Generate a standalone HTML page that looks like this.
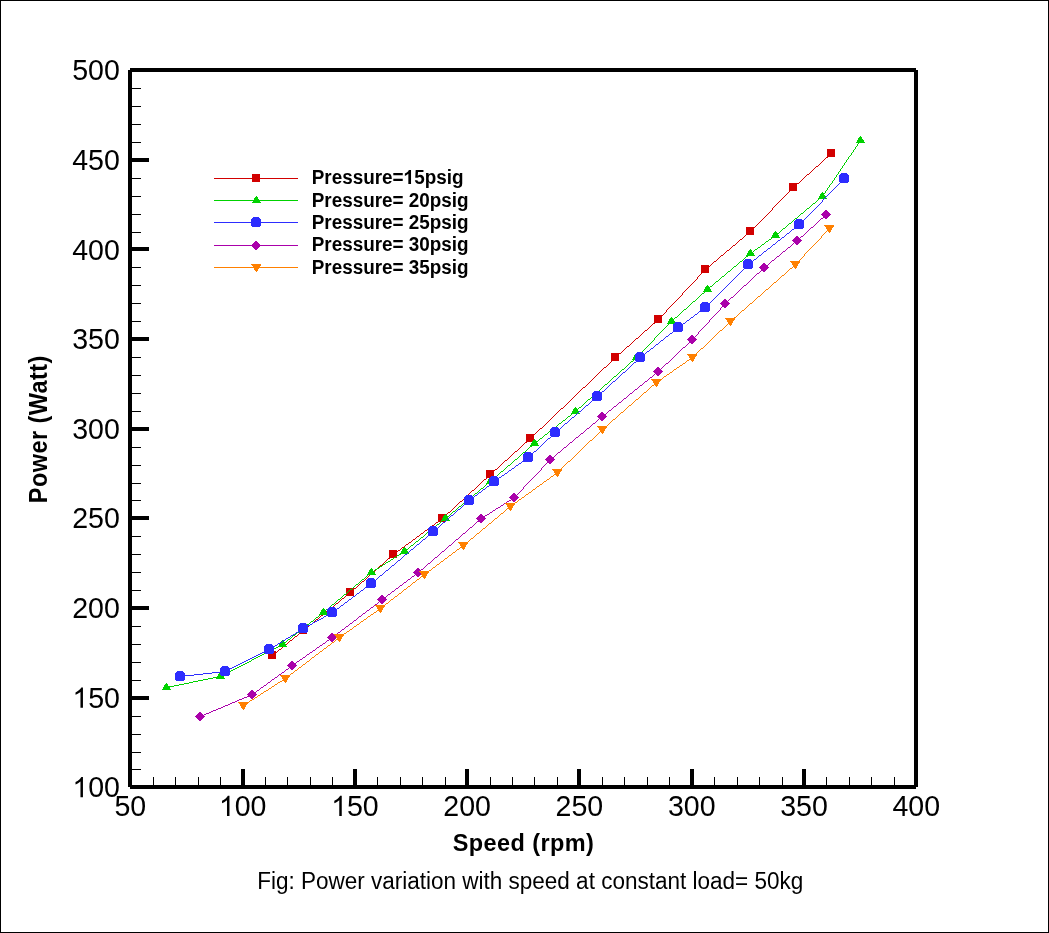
<!DOCTYPE html>
<html><head><meta charset="utf-8"><title>Power variation with speed</title>
<style>
html,body{margin:0;padding:0;background:#fff;}
body{width:1049px;height:933px;overflow:hidden;font-family:"Liberation Sans",sans-serif;}
svg{display:block;will-change:transform;}
</style></head><body>
<svg width="1049" height="933" viewBox="0 0 1049 933">
<rect x="0" y="0" width="1049" height="933" fill="#fff"/>
<g shape-rendering="crispEdges" fill="#000">
<rect x="0" y="0" width="1049" height="1"/><rect x="0" y="932" width="1049" height="1"/>
<rect x="0" y="0" width="1" height="933"/><rect x="1048" y="0" width="1" height="933"/>
<rect x="130" y="68" width="786" height="4"/>
<rect x="130" y="785" width="786" height="4"/>
<rect x="128" y="70" width="4" height="717"/>
<rect x="914" y="70" width="4" height="717"/>
<rect x="132" y="158" width="17" height="4"/>
<rect x="132" y="247" width="17" height="4"/>
<rect x="132" y="337" width="17" height="4"/>
<rect x="132" y="427" width="17" height="4"/>
<rect x="132" y="516" width="17" height="4"/>
<rect x="132" y="606" width="17" height="4"/>
<rect x="132" y="696" width="17" height="4"/>
<rect x="132" y="88" width="9" height="1"/>
<rect x="132" y="106" width="9" height="1"/>
<rect x="132" y="124" width="9" height="1"/>
<rect x="132" y="142" width="9" height="1"/>
<rect x="132" y="178" width="9" height="1"/>
<rect x="132" y="196" width="9" height="1"/>
<rect x="132" y="214" width="9" height="1"/>
<rect x="132" y="232" width="9" height="1"/>
<rect x="132" y="267" width="9" height="1"/>
<rect x="132" y="285" width="9" height="1"/>
<rect x="132" y="303" width="9" height="1"/>
<rect x="132" y="321" width="9" height="1"/>
<rect x="132" y="357" width="9" height="1"/>
<rect x="132" y="375" width="9" height="1"/>
<rect x="132" y="393" width="9" height="1"/>
<rect x="132" y="411" width="9" height="1"/>
<rect x="132" y="447" width="9" height="1"/>
<rect x="132" y="465" width="9" height="1"/>
<rect x="132" y="483" width="9" height="1"/>
<rect x="132" y="500" width="9" height="1"/>
<rect x="132" y="536" width="9" height="1"/>
<rect x="132" y="554" width="9" height="1"/>
<rect x="132" y="572" width="9" height="1"/>
<rect x="132" y="590" width="9" height="1"/>
<rect x="132" y="626" width="9" height="1"/>
<rect x="132" y="644" width="9" height="1"/>
<rect x="132" y="662" width="9" height="1"/>
<rect x="132" y="680" width="9" height="1"/>
<rect x="132" y="716" width="9" height="1"/>
<rect x="132" y="734" width="9" height="1"/>
<rect x="132" y="752" width="9" height="1"/>
<rect x="132" y="769" width="9" height="1"/>
<rect x="241" y="769" width="4" height="16"/>
<rect x="353" y="769" width="4" height="16"/>
<rect x="465" y="769" width="4" height="16"/>
<rect x="577" y="769" width="4" height="16"/>
<rect x="690" y="769" width="4" height="16"/>
<rect x="802" y="769" width="4" height="16"/>
<rect x="153" y="777" width="1" height="8"/>
<rect x="175" y="777" width="1" height="8"/>
<rect x="198" y="777" width="1" height="8"/>
<rect x="220" y="777" width="1" height="8"/>
<rect x="265" y="777" width="1" height="8"/>
<rect x="287" y="777" width="1" height="8"/>
<rect x="310" y="777" width="1" height="8"/>
<rect x="332" y="777" width="1" height="8"/>
<rect x="377" y="777" width="1" height="8"/>
<rect x="400" y="777" width="1" height="8"/>
<rect x="422" y="777" width="1" height="8"/>
<rect x="445" y="777" width="1" height="8"/>
<rect x="490" y="777" width="1" height="8"/>
<rect x="512" y="777" width="1" height="8"/>
<rect x="534" y="777" width="1" height="8"/>
<rect x="557" y="777" width="1" height="8"/>
<rect x="602" y="777" width="1" height="8"/>
<rect x="624" y="777" width="1" height="8"/>
<rect x="647" y="777" width="1" height="8"/>
<rect x="669" y="777" width="1" height="8"/>
<rect x="714" y="777" width="1" height="8"/>
<rect x="737" y="777" width="1" height="8"/>
<rect x="759" y="777" width="1" height="8"/>
<rect x="782" y="777" width="1" height="8"/>
<rect x="826" y="777" width="1" height="8"/>
<rect x="849" y="777" width="1" height="8"/>
<rect x="871" y="777" width="1" height="8"/>
<rect x="894" y="777" width="1" height="8"/>
</g>
<path transform="translate(72.44,797.3) scale(0.01377,-0.01377)" d="M763 0L583 0L583 1147Q518 1085 412.5 1023Q307 961 223 930L223 1104Q374 1175 487 1276Q600 1377 647 1472L763 1472Z" fill="#000"/>
<text transform="translate(88.13,797.3) scale(0.985,1.012)" font-family="'Liberation Sans', sans-serif" font-size="29" fill="#000">00</text>
<path transform="translate(72.44,707.67) scale(0.01377,-0.01377)" d="M763 0L583 0L583 1147Q518 1085 412.5 1023Q307 961 223 930L223 1104Q374 1175 487 1276Q600 1377 647 1472L763 1472Z" fill="#000"/>
<text transform="translate(88.13,707.67) scale(0.985,1.012)" font-family="'Liberation Sans', sans-serif" font-size="29" fill="#000">50</text>
<text transform="translate(72.24,618.05) scale(0.985,1.012)" font-family="'Liberation Sans', sans-serif" font-size="29" fill="#000">200</text>
<text transform="translate(72.24,528.42) scale(0.985,1.012)" font-family="'Liberation Sans', sans-serif" font-size="29" fill="#000">250</text>
<text transform="translate(72.24,438.8) scale(0.985,1.012)" font-family="'Liberation Sans', sans-serif" font-size="29" fill="#000">300</text>
<text transform="translate(72.24,349.18) scale(0.985,1.012)" font-family="'Liberation Sans', sans-serif" font-size="29" fill="#000">350</text>
<text transform="translate(72.24,259.55) scale(0.985,1.012)" font-family="'Liberation Sans', sans-serif" font-size="29" fill="#000">400</text>
<text transform="translate(72.24,169.93) scale(0.985,1.012)" font-family="'Liberation Sans', sans-serif" font-size="29" fill="#000">450</text>
<text transform="translate(72.24,80.3) scale(0.985,1.012)" font-family="'Liberation Sans', sans-serif" font-size="29" fill="#000">500</text>
<text transform="translate(114.41,816) scale(0.985,1.012)" font-family="'Liberation Sans', sans-serif" font-size="29" fill="#000">50</text>
<path transform="translate(218.96,816) scale(0.01377,-0.01377)" d="M763 0L583 0L583 1147Q518 1085 412.5 1023Q307 961 223 930L223 1104Q374 1175 487 1276Q600 1377 647 1472L763 1472Z" fill="#000"/>
<text transform="translate(234.64,816) scale(0.985,1.012)" font-family="'Liberation Sans', sans-serif" font-size="29" fill="#000">00</text>
<path transform="translate(331.24,816) scale(0.01377,-0.01377)" d="M763 0L583 0L583 1147Q518 1085 412.5 1023Q307 961 223 930L223 1104Q374 1175 487 1276Q600 1377 647 1472L763 1472Z" fill="#000"/>
<text transform="translate(346.93,816) scale(0.985,1.012)" font-family="'Liberation Sans', sans-serif" font-size="29" fill="#000">50</text>
<text transform="translate(443.33,816) scale(0.985,1.012)" font-family="'Liberation Sans', sans-serif" font-size="29" fill="#000">200</text>
<text transform="translate(555.61,816) scale(0.985,1.012)" font-family="'Liberation Sans', sans-serif" font-size="29" fill="#000">250</text>
<text transform="translate(667.9,816) scale(0.985,1.012)" font-family="'Liberation Sans', sans-serif" font-size="29" fill="#000">300</text>
<text transform="translate(780.18,816) scale(0.985,1.012)" font-family="'Liberation Sans', sans-serif" font-size="29" fill="#000">350</text>
<text transform="translate(892.47,816) scale(0.985,1.012)" font-family="'Liberation Sans', sans-serif" font-size="29" fill="#000">400</text>
<text transform="translate(523.5,850.7) scale(1,1.045)" font-family="'Liberation Sans', sans-serif" font-size="23.5" font-weight="bold" text-anchor="middle" letter-spacing="0.42" fill="#000">Speed (rpm)</text>
<text transform="translate(47,429.2) rotate(-90) scale(1,1.058)" font-family="'Liberation Sans', sans-serif" font-size="23.5" font-weight="bold" text-anchor="middle" letter-spacing="0.44" fill="#000">Power (Watt)</text>
<text transform="translate(257.2,889) scale(0.958,1)" font-family="'Liberation Sans', sans-serif" font-size="23.5" fill="#000">Fig: Power variation with speed at constant load= 50kg</text>
<g shape-rendering="crispEdges">
<path fill="none" stroke="#d20000" stroke-width="1" d="M831 153.5h1M830 154.5h1M829 155.5h1M828 156.5h1M826 157.5h2M825 158.5h1M824 159.5h1M823 160.5h1M822 161.5h1M821 162.5h1M820 163.5h1M819 164.5h1M818 165.5h1M816 166.5h2M815 167.5h1M814 168.5h1M813 169.5h1M812 170.5h1M811 171.5h1M810 172.5h1M809 173.5h1M807 174.5h2M806 175.5h1M805 176.5h1M804 177.5h1M803 178.5h1M802 179.5h1M801 180.5h1M800 181.5h1M799 182.5h1M797 183.5h2M796 184.5h1M795 185.5h1M794 186.5h1M793 187.5h1M792 188.5h1M791 189.5h1M790 190.5h1M789 191.5h1M788 192.5h1M787 193.5h1M786 194.5h1M785 195.5h1M784 196.5h1M783 197.5h1M782 198.5h1M781 199.5h1M780 200.5h1M779 201.5h1M778 202.5h1M777 203.5h1M776 204.5h1M775 205.5h1M774 206.5h1M773 207.5h1M772 208.5h1M772 209.5h1M771 210.5h1M770 211.5h1M769 212.5h1M768 213.5h1M767 214.5h1M766 215.5h1M765 216.5h1M764 217.5h1M763 218.5h1M762 219.5h1M761 220.5h1M760 221.5h1M759 222.5h1M758 223.5h1M757 224.5h1M756 225.5h1M755 226.5h1M754 227.5h1M753 228.5h1M752 229.5h1M751 230.5h1M750 231.5h1M749 232.5h1M748 233.5h1M746 234.5h2M745 235.5h1M744 236.5h1M743 237.5h1M742 238.5h1M740 239.5h2M739 240.5h1M738 241.5h1M737 242.5h1M736 243.5h1M735 244.5h1M733 245.5h2M732 246.5h1M731 247.5h1M730 248.5h1M729 249.5h1M727 250.5h2M726 251.5h1M725 252.5h1M724 253.5h1M723 254.5h1M721 255.5h2M720 256.5h1M719 257.5h1M718 258.5h1M717 259.5h1M716 260.5h1M714 261.5h2M713 262.5h1M712 263.5h1M711 264.5h1M710 265.5h1M708 266.5h2M707 267.5h1M706 268.5h1M705 269.5h1M704 270.5h1M703 271.5h1M702 272.5h1M701 273.5h1M700 274.5h1M699 275.5h1M698 276.5h1M697 277.5h1M697 278.5h1M696 279.5h1M695 280.5h1M694 281.5h1M693 282.5h1M692 283.5h1M691 284.5h1M690 285.5h1M689 286.5h1M688 287.5h1M687 288.5h1M686 289.5h1M685 290.5h1M684 291.5h1M683 292.5h1M682 293.5h1M682 294.5h1M681 295.5h1M680 296.5h1M679 297.5h1M678 298.5h1M677 299.5h1M676 300.5h1M675 301.5h1M674 302.5h1M673 303.5h1M672 304.5h1M671 305.5h1M670 306.5h1M669 307.5h1M668 308.5h1M667 309.5h1M666 310.5h1M666 311.5h1M665 312.5h1M664 313.5h1M663 314.5h1M662 315.5h1M661 316.5h1M660 317.5h1M659 318.5h1M658 319.5h1M657 320.5h1M656 321.5h1M655 322.5h1M653 323.5h2M652 324.5h1M651 325.5h1M650 326.5h1M649 327.5h1M648 328.5h1M647 329.5h1M645 330.5h2M644 331.5h1M643 332.5h1M642 333.5h1M641 334.5h1M640 335.5h1M639 336.5h1M638 337.5h1M636 338.5h2M635 339.5h1M634 340.5h1M633 341.5h1M632 342.5h1M631 343.5h1M630 344.5h1M629 345.5h1M627 346.5h2M626 347.5h1M625 348.5h1M624 349.5h1M623 350.5h1M622 351.5h1M621 352.5h1M619 353.5h2M618 354.5h1M617 355.5h1M616 356.5h1M615 357.5h1M614 358.5h1M613 359.5h1M612 360.5h1M611 361.5h1M610 362.5h1M609 363.5h1M608 364.5h1M607 365.5h1M606 366.5h1M604 367.5h2M603 368.5h1M602 369.5h1M601 370.5h1M600 371.5h1M599 372.5h1M598 373.5h1M597 374.5h1M596 375.5h1M595 376.5h1M594 377.5h1M593 378.5h1M592 379.5h1M591 380.5h1M590 381.5h1M589 382.5h1M588 383.5h1M587 384.5h1M586 385.5h1M585 386.5h1M583 387.5h2M582 388.5h1M581 389.5h1M580 390.5h1M579 391.5h1M578 392.5h1M577 393.5h1M576 394.5h1M575 395.5h1M574 396.5h1M573 397.5h1M572 398.5h1M571 399.5h1M570 400.5h1M569 401.5h1M568 402.5h1M567 403.5h1M566 404.5h1M565 405.5h1M564 406.5h1M563 407.5h1M561 408.5h2M560 409.5h1M559 410.5h1M558 411.5h1M557 412.5h1M556 413.5h1M555 414.5h1M554 415.5h1M553 416.5h1M552 417.5h1M551 418.5h1M550 419.5h1M549 420.5h1M548 421.5h1M547 422.5h1M546 423.5h1M545 424.5h1M544 425.5h1M543 426.5h1M542 427.5h1M540 428.5h2M539 429.5h1M538 430.5h1M537 431.5h1M536 432.5h1M535 433.5h1M534 434.5h1M533 435.5h1M532 436.5h1M531 437.5h1M530 438.5h1M529 439.5h1M528 440.5h1M527 441.5h1M525 442.5h2M524 443.5h1M523 444.5h1M522 445.5h1M521 446.5h1M520 447.5h1M519 448.5h1M518 449.5h1M517 450.5h1M515 451.5h2M514 452.5h1M513 453.5h1M512 454.5h1M511 455.5h1M510 456.5h1M509 457.5h1M508 458.5h1M507 459.5h1M505 460.5h2M504 461.5h1M503 462.5h1M502 463.5h1M501 464.5h1M500 465.5h1M499 466.5h1M498 467.5h1M497 468.5h1M495 469.5h2M494 470.5h1M493 471.5h1M492 472.5h1M491 473.5h1M490 474.5h1M489 475.5h1M488 476.5h1M487 477.5h1M486 478.5h1M484 479.5h2M483 480.5h1M482 481.5h1M481 482.5h1M480 483.5h1M479 484.5h1M478 485.5h1M477 486.5h1M476 487.5h1M475 488.5h1M474 489.5h1M472 490.5h2M471 491.5h1M470 492.5h1M469 493.5h1M468 494.5h1M467 495.5h1M466 496.5h1M465 497.5h1M464 498.5h1M463 499.5h1M462 500.5h1M460 501.5h2M459 502.5h1M458 503.5h1M457 504.5h1M456 505.5h1M455 506.5h1M454 507.5h1M453 508.5h1M452 509.5h1M451 510.5h1M450 511.5h1M448 512.5h2M447 513.5h1M446 514.5h1M445 515.5h1M444 516.5h1M443 517.5h1M442 518.5h1M440 519.5h2M439 520.5h1M438 521.5h1M436 522.5h2M435 523.5h1M434 524.5h1M432 525.5h2M431 526.5h1M430 527.5h1M428 528.5h2M427 529.5h1M425 530.5h2M424 531.5h1M423 532.5h1M421 533.5h2M420 534.5h1M419 535.5h1M417 536.5h2M416 537.5h1M415 538.5h1M413 539.5h2M412 540.5h1M411 541.5h1M409 542.5h2M408 543.5h1M406 544.5h2M405 545.5h1M404 546.5h1M402 547.5h2M401 548.5h1M400 549.5h1M398 550.5h2M397 551.5h1M396 552.5h1M394 553.5h2M393 554.5h1M392 555.5h1M391 556.5h1M390 557.5h1M388 558.5h2M387 559.5h1M386 560.5h1M385 561.5h1M384 562.5h1M383 563.5h1M382 564.5h1M380 565.5h2M379 566.5h1M378 567.5h1M377 568.5h1M376 569.5h1M375 570.5h1M374 571.5h1M373 572.5h1M371 573.5h2M370 574.5h1M369 575.5h1M368 576.5h1M367 577.5h1M366 578.5h1M365 579.5h1M364 580.5h1M362 581.5h2M361 582.5h1M360 583.5h1M359 584.5h1M358 585.5h1M357 586.5h1M356 587.5h1M354 588.5h2M353 589.5h1M352 590.5h1M351 591.5h1M350 592.5h1M349 593.5h1M347 594.5h2M346 595.5h1M345 596.5h1M344 597.5h1M342 598.5h2M341 599.5h1M340 600.5h1M339 601.5h1M338 602.5h1M336 603.5h2M335 604.5h1M334 605.5h1M333 606.5h1M331 607.5h2M330 608.5h1M329 609.5h1M328 610.5h1M326 611.5h2M325 612.5h1M324 613.5h1M323 614.5h1M321 615.5h2M320 616.5h1M319 617.5h1M318 618.5h1M316 619.5h2M315 620.5h1M314 621.5h1M313 622.5h1M312 623.5h1M310 624.5h2M309 625.5h1M308 626.5h1M307 627.5h1M305 628.5h2M304 629.5h1M303 630.5h1M302 631.5h1M300 632.5h2M299 633.5h1M298 634.5h1M297 635.5h1M295 636.5h2M294 637.5h1M293 638.5h1M292 639.5h1M290 640.5h2M289 641.5h1M288 642.5h1M287 643.5h1M286 644.5h1M284 645.5h2M283 646.5h1M282 647.5h1M281 648.5h1M279 649.5h2M278 650.5h1M277 651.5h1M276 652.5h1M274 653.5h2M273 654.5h1M272 655.5h1"/>
<path fill="none" stroke="#d20000" stroke-width="1" d="M268 651.5h8M268 652.5h8M268 653.5h8M268 654.5h8M268 655.5h8M268 656.5h8M268 657.5h8M268 658.5h8M299 626.5h8M299 627.5h8M299 628.5h8M299 629.5h8M299 630.5h8M299 631.5h8M299 632.5h8M299 633.5h8M346 588.5h8M346 589.5h8M346 590.5h8M346 591.5h8M346 592.5h8M346 593.5h8M346 594.5h8M346 595.5h8M389 550.5h8M389 551.5h8M389 552.5h8M389 553.5h8M389 554.5h8M389 555.5h8M389 556.5h8M389 557.5h8M438 514.5h8M438 515.5h8M438 516.5h8M438 517.5h8M438 518.5h8M438 519.5h8M438 520.5h8M438 521.5h8M486 470.5h8M486 471.5h8M486 472.5h8M486 473.5h8M486 474.5h8M486 475.5h8M486 476.5h8M486 477.5h8M526 434.5h8M526 435.5h8M526 436.5h8M526 437.5h8M526 438.5h8M526 439.5h8M526 440.5h8M526 441.5h8M611 353.5h8M611 354.5h8M611 355.5h8M611 356.5h8M611 357.5h8M611 358.5h8M611 359.5h8M611 360.5h8M654 315.5h8M654 316.5h8M654 317.5h8M654 318.5h8M654 319.5h8M654 320.5h8M654 321.5h8M654 322.5h8M701 265.5h8M701 266.5h8M701 267.5h8M701 268.5h8M701 269.5h8M701 270.5h8M701 271.5h8M701 272.5h8M746 227.5h8M746 228.5h8M746 229.5h8M746 230.5h8M746 231.5h8M746 232.5h8M746 233.5h8M746 234.5h8M789 183.5h8M789 184.5h8M789 185.5h8M789 186.5h8M789 187.5h8M789 188.5h8M789 189.5h8M789 190.5h8M827 149.5h8M827 150.5h8M827 151.5h8M827 152.5h8M827 153.5h8M827 154.5h8M827 155.5h8M827 156.5h8"/>
<path fill="none" stroke="#00d200" stroke-width="1" d="M860 140.5h1M859 141.5h1M859 142.5h1M858 143.5h1M857 144.5h1M857 145.5h1M856 146.5h1M855 147.5h1M855 148.5h1M854 149.5h1M853 150.5h1M853 151.5h1M852 152.5h1M851 153.5h1M851 154.5h1M850 155.5h1M849 156.5h1M848 157.5h1M848 158.5h1M847 159.5h1M846 160.5h1M846 161.5h1M845 162.5h1M844 163.5h1M844 164.5h1M843 165.5h1M842 166.5h1M842 167.5h1M841 168.5h1M840 169.5h1M840 170.5h1M839 171.5h1M838 172.5h1M838 173.5h1M837 174.5h1M836 175.5h1M836 176.5h1M835 177.5h1M834 178.5h1M834 179.5h1M833 180.5h1M832 181.5h1M832 182.5h1M831 183.5h1M830 184.5h1M829 185.5h1M829 186.5h1M828 187.5h1M827 188.5h1M827 189.5h1M826 190.5h1M825 191.5h1M825 192.5h1M824 193.5h1M823 194.5h1M823 195.5h1M822 196.5h1M821 197.5h1M819 198.5h2M818 199.5h1M817 200.5h1M816 201.5h1M815 202.5h1M813 203.5h2M812 204.5h1M811 205.5h1M810 206.5h1M809 207.5h1M807 208.5h2M806 209.5h1M805 210.5h1M804 211.5h1M803 212.5h1M801 213.5h2M800 214.5h1M799 215.5h1M798 216.5h1M797 217.5h1M795 218.5h2M794 219.5h1M793 220.5h1M792 221.5h1M791 222.5h1M789 223.5h2M788 224.5h1M787 225.5h1M786 226.5h1M785 227.5h1M783 228.5h2M782 229.5h1M781 230.5h1M780 231.5h1M779 232.5h1M777 233.5h2M776 234.5h1M775 235.5h1M773 236.5h2M772 237.5h1M771 238.5h1M769 239.5h2M768 240.5h1M766 241.5h2M765 242.5h1M764 243.5h1M762 244.5h2M761 245.5h1M760 246.5h1M758 247.5h2M757 248.5h1M755 249.5h2M754 250.5h1M753 251.5h1M751 252.5h2M750 253.5h1M749 254.5h1M748 255.5h1M746 256.5h2M745 257.5h1M744 258.5h1M743 259.5h1M742 260.5h1M740 261.5h2M739 262.5h1M738 263.5h1M737 264.5h1M736 265.5h1M734 266.5h2M733 267.5h1M732 268.5h1M731 269.5h1M730 270.5h1M728 271.5h2M727 272.5h1M726 273.5h1M725 274.5h1M724 275.5h1M722 276.5h2M721 277.5h1M720 278.5h1M719 279.5h1M718 280.5h1M716 281.5h2M715 282.5h1M714 283.5h1M713 284.5h1M712 285.5h1M710 286.5h2M709 287.5h1M708 288.5h1M707 289.5h1M706 290.5h1M705 291.5h1M704 292.5h1M702 293.5h2M701 294.5h1M700 295.5h1M699 296.5h1M698 297.5h1M697 298.5h1M696 299.5h1M695 300.5h1M693 301.5h2M692 302.5h1M691 303.5h1M690 304.5h1M689 305.5h1M688 306.5h1M687 307.5h1M686 308.5h1M684 309.5h2M683 310.5h1M682 311.5h1M681 312.5h1M680 313.5h1M679 314.5h1M678 315.5h1M677 316.5h1M675 317.5h2M674 318.5h1M673 319.5h1M672 320.5h1M671 321.5h1M670 322.5h1M669 323.5h1M668 324.5h1M667 325.5h1M666 326.5h1M665 327.5h1M664 328.5h1M663 329.5h1M662 330.5h1M661 331.5h1M660 332.5h1M659 333.5h1M658 334.5h1M657 335.5h1M656 336.5h1M655 337.5h1M654 338.5h1M654 339.5h1M653 340.5h1M652 341.5h1M651 342.5h1M650 343.5h1M649 344.5h1M648 345.5h1M647 346.5h1M646 347.5h1M645 348.5h1M644 349.5h1M643 350.5h1M642 351.5h1M641 352.5h1M640 353.5h1M639 354.5h1M638 355.5h1M637 356.5h1M636 357.5h1M635 358.5h1M634 359.5h1M633 360.5h1M631 361.5h2M630 362.5h1M629 363.5h1M628 364.5h1M627 365.5h1M626 366.5h1M625 367.5h1M624 368.5h1M622 369.5h2M621 370.5h1M620 371.5h1M619 372.5h1M618 373.5h1M617 374.5h1M616 375.5h1M614 376.5h2M613 377.5h1M612 378.5h1M611 379.5h1M610 380.5h1M609 381.5h1M608 382.5h1M607 383.5h1M605 384.5h2M604 385.5h1M603 386.5h1M602 387.5h1M601 388.5h1M600 389.5h1M599 390.5h1M598 391.5h1M596 392.5h2M595 393.5h1M594 394.5h1M593 395.5h1M592 396.5h1M591 397.5h1M590 398.5h1M588 399.5h2M587 400.5h1M586 401.5h1M585 402.5h1M584 403.5h1M583 404.5h1M582 405.5h1M581 406.5h1M579 407.5h2M578 408.5h1M577 409.5h1M576 410.5h1M575 411.5h1M574 412.5h1M572 413.5h2M571 414.5h1M570 415.5h1M568 416.5h2M567 417.5h1M566 418.5h1M565 419.5h1M563 420.5h2M562 421.5h1M561 422.5h1M559 423.5h2M558 424.5h1M557 425.5h1M556 426.5h1M554 427.5h2M553 428.5h1M552 429.5h1M551 430.5h1M549 431.5h2M548 432.5h1M547 433.5h1M545 434.5h2M544 435.5h1M543 436.5h1M542 437.5h1M540 438.5h2M539 439.5h1M538 440.5h1M536 441.5h2M535 442.5h1M534 443.5h1M533 444.5h1M532 445.5h1M530 446.5h2M529 447.5h1M528 448.5h1M527 449.5h1M526 450.5h1M525 451.5h1M523 452.5h2M522 453.5h1M521 454.5h1M520 455.5h1M519 456.5h1M518 457.5h1M517 458.5h1M515 459.5h2M514 460.5h1M513 461.5h1M512 462.5h1M511 463.5h1M510 464.5h1M508 465.5h2M507 466.5h1M506 467.5h1M505 468.5h1M504 469.5h1M503 470.5h1M501 471.5h2M500 472.5h1M499 473.5h1M498 474.5h1M497 475.5h1M496 476.5h1M495 477.5h1M493 478.5h2M492 479.5h1M491 480.5h1M490 481.5h1M489 482.5h1M487 483.5h2M486 484.5h1M485 485.5h1M484 486.5h1M483 487.5h1M481 488.5h2M480 489.5h1M479 490.5h1M478 491.5h1M477 492.5h1M475 493.5h2M474 494.5h1M473 495.5h1M472 496.5h1M470 497.5h2M469 498.5h1M468 499.5h1M467 500.5h1M466 501.5h1M464 502.5h2M463 503.5h1M462 504.5h1M461 505.5h1M459 506.5h2M458 507.5h1M457 508.5h1M456 509.5h1M455 510.5h1M453 511.5h2M452 512.5h1M451 513.5h1M450 514.5h1M449 515.5h1M447 516.5h2M446 517.5h1M445 518.5h1M444 519.5h1M442 520.5h2M441 521.5h1M440 522.5h1M439 523.5h1M437 524.5h2M436 525.5h1M435 526.5h1M434 527.5h1M432 528.5h2M431 529.5h1M430 530.5h1M429 531.5h1M427 532.5h2M426 533.5h1M425 534.5h1M424 535.5h1M423 536.5h1M421 537.5h2M420 538.5h1M419 539.5h1M418 540.5h1M416 541.5h2M415 542.5h1M414 543.5h1M413 544.5h1M411 545.5h2M410 546.5h1M409 547.5h1M408 548.5h1M406 549.5h2M405 550.5h1M404 551.5h1M402 552.5h2M401 553.5h1M399 554.5h2M397 555.5h2M396 556.5h1M394 557.5h2M393 558.5h1M391 559.5h2M390 560.5h1M388 561.5h2M386 562.5h2M385 563.5h1M383 564.5h2M382 565.5h1M380 566.5h2M379 567.5h1M377 568.5h2M375 569.5h2M374 570.5h1M372 571.5h2M371 572.5h1M370 573.5h1M368 574.5h2M367 575.5h1M366 576.5h1M365 577.5h1M364 578.5h1M362 579.5h2M361 580.5h1M360 581.5h1M359 582.5h1M358 583.5h1M356 584.5h2M355 585.5h1M354 586.5h1M353 587.5h1M352 588.5h1M350 589.5h2M349 590.5h1M348 591.5h1M347 592.5h1M346 593.5h1M344 594.5h2M343 595.5h1M342 596.5h1M341 597.5h1M340 598.5h1M338 599.5h2M337 600.5h1M336 601.5h1M335 602.5h1M334 603.5h1M332 604.5h2M331 605.5h1M330 606.5h1M329 607.5h1M328 608.5h1M326 609.5h2M325 610.5h1M324 611.5h1M323 612.5h1M322 613.5h1M320 614.5h2M319 615.5h1M318 616.5h1M316 617.5h2M315 618.5h1M314 619.5h1M313 620.5h1M311 621.5h2M310 622.5h1M309 623.5h1M307 624.5h2M306 625.5h1M305 626.5h1M304 627.5h1M302 628.5h2M301 629.5h1M300 630.5h1M299 631.5h1M297 632.5h2M296 633.5h1M295 634.5h1M293 635.5h2M292 636.5h1M291 637.5h1M290 638.5h1M288 639.5h2M287 640.5h1M286 641.5h1M284 642.5h2M283 643.5h1M282 644.5h1M280 645.5h2M278 646.5h2M276 647.5h2M274 648.5h2M272 649.5h2M270 650.5h2M268 651.5h2M266 652.5h2M264 653.5h2M262 654.5h2M260 655.5h2M258 656.5h2M256 657.5h2M254 658.5h2M252 659.5h2M251 660.5h1M249 661.5h2M247 662.5h2M245 663.5h2M243 664.5h2M241 665.5h2M239 666.5h2M237 667.5h2M235 668.5h2M233 669.5h2M231 670.5h2M229 671.5h2M227 672.5h2M225 673.5h2M223 674.5h2M221 675.5h2M218 676.5h3M213 677.5h5M208 678.5h5M203 679.5h5M198 680.5h5M193 681.5h5M189 682.5h4M184 683.5h5M179 684.5h5M174 685.5h5M169 686.5h5M166 687.5h3"/>
<path fill="none" stroke="#00d200" stroke-width="1" d="M166 683.5h1M165 684.5h3M164 685.5h4M164 686.5h5M163 687.5h7M163 688.5h7M162 689.5h9M220 672.5h1M219 673.5h3M218 674.5h4M218 675.5h5M217 676.5h7M217 677.5h7M216 678.5h9M282 640.5h1M281 641.5h3M280 642.5h4M280 643.5h5M279 644.5h7M279 645.5h7M278 646.5h9M323 608.5h1M322 609.5h3M321 610.5h4M321 611.5h5M320 612.5h7M320 613.5h7M319 614.5h9M371 568.5h1M370 569.5h3M369 570.5h4M369 571.5h5M368 572.5h7M368 573.5h7M367 574.5h9M404 547.5h1M403 548.5h3M402 549.5h4M402 550.5h5M401 551.5h7M401 552.5h7M400 553.5h9M445 514.5h1M444 515.5h3M443 516.5h4M443 517.5h5M442 518.5h7M442 519.5h7M441 520.5h9M490 477.5h1M489 478.5h3M488 479.5h4M488 480.5h5M487 481.5h7M487 482.5h7M486 483.5h9M534 439.5h1M533 440.5h3M532 441.5h4M532 442.5h5M531 443.5h7M531 444.5h7M530 445.5h9M575 407.5h1M574 408.5h3M573 409.5h4M573 410.5h5M572 411.5h7M572 412.5h7M571 413.5h9M636 353.5h1M635 354.5h3M634 355.5h4M634 356.5h5M633 357.5h7M633 358.5h7M632 359.5h9M671 317.5h1M670 318.5h3M669 319.5h4M669 320.5h5M668 321.5h7M668 322.5h7M667 323.5h9M707 285.5h1M706 286.5h3M705 287.5h4M705 288.5h5M704 289.5h7M704 290.5h7M703 291.5h9M750 249.5h1M749 250.5h3M748 251.5h4M748 252.5h5M747 253.5h7M747 254.5h7M746 255.5h9M775 231.5h1M774 232.5h3M773 233.5h4M773 234.5h5M772 235.5h7M772 236.5h7M771 237.5h9M822 192.5h1M821 193.5h3M820 194.5h4M820 195.5h5M819 196.5h7M819 197.5h7M818 198.5h9M860 136.5h1M859 137.5h3M858 138.5h4M858 139.5h5M857 140.5h7M857 141.5h7M856 142.5h9"/>
<path fill="none" stroke="#2d2dff" stroke-width="1" d="M844 178.5h1M843 179.5h1M842 180.5h1M841 181.5h1M840 182.5h1M839 183.5h1M838 184.5h1M837 185.5h1M836 186.5h1M835 187.5h1M834 188.5h1M833 189.5h1M832 190.5h1M831 191.5h1M830 192.5h1M829 193.5h1M828 194.5h1M827 195.5h1M826 196.5h1M825 197.5h1M824 198.5h1M823 199.5h1M822 200.5h1M822 201.5h1M821 202.5h1M820 203.5h1M819 204.5h1M818 205.5h1M817 206.5h1M816 207.5h1M815 208.5h1M814 209.5h1M813 210.5h1M812 211.5h1M811 212.5h1M810 213.5h1M809 214.5h1M808 215.5h1M807 216.5h1M806 217.5h1M805 218.5h1M804 219.5h1M803 220.5h1M802 221.5h1M801 222.5h1M800 223.5h1M799 224.5h1M798 225.5h1M796 226.5h2M795 227.5h1M794 228.5h1M792 229.5h2M791 230.5h1M790 231.5h1M789 232.5h1M787 233.5h2M786 234.5h1M785 235.5h1M784 236.5h1M782 237.5h2M781 238.5h1M780 239.5h1M778 240.5h2M777 241.5h1M776 242.5h1M775 243.5h1M773 244.5h2M772 245.5h1M771 246.5h1M770 247.5h1M768 248.5h2M767 249.5h1M766 250.5h1M764 251.5h2M763 252.5h1M762 253.5h1M761 254.5h1M759 255.5h2M758 256.5h1M757 257.5h1M756 258.5h1M754 259.5h2M753 260.5h1M752 261.5h1M750 262.5h2M749 263.5h1M748 264.5h1M747 265.5h1M746 266.5h1M745 267.5h1M744 268.5h1M743 269.5h1M742 270.5h1M741 271.5h1M740 272.5h1M739 273.5h1M738 274.5h1M737 275.5h1M736 276.5h1M735 277.5h1M734 278.5h1M733 279.5h1M732 280.5h1M731 281.5h1M730 282.5h1M729 283.5h1M728 284.5h1M727 285.5h1M726 286.5h1M725 287.5h1M724 288.5h1M723 289.5h1M722 290.5h1M721 291.5h1M720 292.5h1M719 293.5h1M718 294.5h1M717 295.5h1M716 296.5h1M715 297.5h1M714 298.5h1M713 299.5h1M712 300.5h1M711 301.5h1M710 302.5h1M709 303.5h1M708 304.5h1M707 305.5h1M706 306.5h1M705 307.5h1M703 308.5h2M702 309.5h1M701 310.5h1M699 311.5h2M698 312.5h1M697 313.5h1M695 314.5h2M694 315.5h1M693 316.5h1M691 317.5h2M690 318.5h1M689 319.5h1M687 320.5h2M686 321.5h1M685 322.5h1M683 323.5h2M682 324.5h1M681 325.5h1M679 326.5h2M678 327.5h1M677 328.5h1M675 329.5h2M674 330.5h1M673 331.5h1M672 332.5h1M670 333.5h2M669 334.5h1M668 335.5h1M666 336.5h2M665 337.5h1M664 338.5h1M663 339.5h1M661 340.5h2M660 341.5h1M659 342.5h1M658 343.5h1M656 344.5h2M655 345.5h1M654 346.5h1M653 347.5h1M651 348.5h2M650 349.5h1M649 350.5h1M647 351.5h2M646 352.5h1M645 353.5h1M644 354.5h1M642 355.5h2M641 356.5h1M640 357.5h1M639 358.5h1M638 359.5h1M637 360.5h1M636 361.5h1M634 362.5h2M633 363.5h1M632 364.5h1M631 365.5h1M630 366.5h1M629 367.5h1M628 368.5h1M627 369.5h1M626 370.5h1M625 371.5h1M623 372.5h2M622 373.5h1M621 374.5h1M620 375.5h1M619 376.5h1M618 377.5h1M617 378.5h1M616 379.5h1M615 380.5h1M613 381.5h2M612 382.5h1M611 383.5h1M610 384.5h1M609 385.5h1M608 386.5h1M607 387.5h1M606 388.5h1M605 389.5h1M604 390.5h1M602 391.5h2M601 392.5h1M600 393.5h1M599 394.5h1M598 395.5h1M597 396.5h1M596 397.5h1M595 398.5h1M593 399.5h2M592 400.5h1M591 401.5h1M590 402.5h1M589 403.5h1M588 404.5h1M586 405.5h2M585 406.5h1M584 407.5h1M583 408.5h1M582 409.5h1M581 410.5h1M579 411.5h2M578 412.5h1M577 413.5h1M576 414.5h1M575 415.5h1M574 416.5h1M572 417.5h2M571 418.5h1M570 419.5h1M569 420.5h1M568 421.5h1M567 422.5h1M565 423.5h2M564 424.5h1M563 425.5h1M562 426.5h1M561 427.5h1M560 428.5h1M558 429.5h2M557 430.5h1M556 431.5h1M555 432.5h1M554 433.5h1M553 434.5h1M552 435.5h1M551 436.5h1M550 437.5h1M548 438.5h2M547 439.5h1M546 440.5h1M545 441.5h1M544 442.5h1M543 443.5h1M542 444.5h1M541 445.5h1M540 446.5h1M539 447.5h1M538 448.5h1M537 449.5h1M536 450.5h1M534 451.5h2M533 452.5h1M532 453.5h1M531 454.5h1M530 455.5h1M529 456.5h1M528 457.5h1M526 458.5h2M525 459.5h1M524 460.5h1M522 461.5h2M521 462.5h1M519 463.5h2M518 464.5h1M516 465.5h2M515 466.5h1M514 467.5h1M512 468.5h2M511 469.5h1M509 470.5h2M508 471.5h1M507 472.5h1M505 473.5h2M504 474.5h1M502 475.5h2M501 476.5h1M499 477.5h2M498 478.5h1M497 479.5h1M495 480.5h2M494 481.5h1M493 482.5h1M491 483.5h2M490 484.5h1M489 485.5h1M487 486.5h2M486 487.5h1M485 488.5h1M483 489.5h2M482 490.5h1M481 491.5h1M479 492.5h2M478 493.5h1M477 494.5h1M475 495.5h2M474 496.5h1M473 497.5h1M471 498.5h2M470 499.5h1M469 500.5h1M468 501.5h1M467 502.5h1M465 503.5h2M464 504.5h1M463 505.5h1M462 506.5h1M461 507.5h1M460 508.5h1M458 509.5h2M457 510.5h1M456 511.5h1M455 512.5h1M454 513.5h1M453 514.5h1M451 515.5h2M450 516.5h1M449 517.5h1M448 518.5h1M447 519.5h1M446 520.5h1M445 521.5h1M443 522.5h2M442 523.5h1M441 524.5h1M440 525.5h1M439 526.5h1M438 527.5h1M436 528.5h2M435 529.5h1M434 530.5h1M433 531.5h1M432 532.5h1M431 533.5h1M429 534.5h2M428 535.5h1M427 536.5h1M426 537.5h1M425 538.5h1M423 539.5h2M422 540.5h1M421 541.5h1M420 542.5h1M419 543.5h1M417 544.5h2M416 545.5h1M415 546.5h1M414 547.5h1M413 548.5h1M411 549.5h2M410 550.5h1M409 551.5h1M408 552.5h1M407 553.5h1M405 554.5h2M404 555.5h1M403 556.5h1M402 557.5h1M401 558.5h1M400 559.5h1M398 560.5h2M397 561.5h1M396 562.5h1M395 563.5h1M394 564.5h1M392 565.5h2M391 566.5h1M390 567.5h1M389 568.5h1M388 569.5h1M386 570.5h2M385 571.5h1M384 572.5h1M383 573.5h1M382 574.5h1M380 575.5h2M379 576.5h1M378 577.5h1M377 578.5h1M376 579.5h1M374 580.5h2M373 581.5h1M372 582.5h1M371 583.5h1M369 584.5h2M368 585.5h1M367 586.5h1M365 587.5h2M364 588.5h1M363 589.5h1M361 590.5h2M360 591.5h1M359 592.5h1M357 593.5h2M356 594.5h1M355 595.5h1M353 596.5h2M352 597.5h1M351 598.5h1M349 599.5h2M348 600.5h1M347 601.5h1M345 602.5h2M344 603.5h1M343 604.5h1M341 605.5h2M340 606.5h1M339 607.5h1M337 608.5h2M336 609.5h1M335 610.5h1M333 611.5h2M332 612.5h1M330 613.5h2M328 614.5h2M326 615.5h2M324 616.5h2M323 617.5h1M321 618.5h2M319 619.5h2M317 620.5h2M315 621.5h2M313 622.5h2M312 623.5h1M310 624.5h2M308 625.5h2M306 626.5h2M304 627.5h2M303 628.5h1M301 629.5h2M299 630.5h2M298 631.5h1M296 632.5h2M295 633.5h1M293 634.5h2M291 635.5h2M290 636.5h1M288 637.5h2M286 638.5h2M285 639.5h1M283 640.5h2M282 641.5h1M280 642.5h2M278 643.5h2M277 644.5h1M275 645.5h2M274 646.5h1M272 647.5h2M270 648.5h2M268 649.5h2M266 650.5h2M264 651.5h2M262 652.5h2M260 653.5h2M258 654.5h2M256 655.5h2M254 656.5h2M252 657.5h2M250 658.5h2M248 659.5h2M246 660.5h2M244 661.5h2M242 662.5h2M240 663.5h2M238 664.5h2M236 665.5h2M234 666.5h2M232 667.5h2M230 668.5h2M228 669.5h2M226 670.5h2M221 671.5h5M212 672.5h9M203 673.5h9M194 674.5h9M185 675.5h9M180 676.5h5"/>
<path fill="none" stroke="#2d2dff" stroke-width="1" d="M177 671.5h6M176 672.5h8M175 673.5h10M175 674.5h10M175 675.5h10M175 676.5h10M175 677.5h10M175 678.5h10M175 679.5h10M176 680.5h8M222 666.5h6M221 667.5h8M220 668.5h10M220 669.5h10M220 670.5h10M220 671.5h10M220 672.5h10M220 673.5h10M220 674.5h10M221 675.5h8M266 644.5h6M265 645.5h8M264 646.5h10M264 647.5h10M264 648.5h10M264 649.5h10M264 650.5h10M264 651.5h10M264 652.5h10M265 653.5h8M300 623.5h6M299 624.5h8M298 625.5h10M298 626.5h10M298 627.5h10M298 628.5h10M298 629.5h10M298 630.5h10M298 631.5h10M299 632.5h8M329 607.5h6M328 608.5h8M327 609.5h10M327 610.5h10M327 611.5h10M327 612.5h10M327 613.5h10M327 614.5h10M327 615.5h10M328 616.5h8M368 578.5h6M367 579.5h8M366 580.5h10M366 581.5h10M366 582.5h10M366 583.5h10M366 584.5h10M366 585.5h10M366 586.5h10M367 587.5h8M430 526.5h6M429 527.5h8M428 528.5h10M428 529.5h10M428 530.5h10M428 531.5h10M428 532.5h10M428 533.5h10M428 534.5h10M429 535.5h8M466 495.5h6M465 496.5h8M464 497.5h10M464 498.5h10M464 499.5h10M464 500.5h10M464 501.5h10M464 502.5h10M464 503.5h10M465 504.5h8M491 476.5h6M490 477.5h8M489 478.5h10M489 479.5h10M489 480.5h10M489 481.5h10M489 482.5h10M489 483.5h10M489 484.5h10M490 485.5h8M525 452.5h6M524 453.5h8M523 454.5h10M523 455.5h10M523 456.5h10M523 457.5h10M523 458.5h10M523 459.5h10M523 460.5h10M524 461.5h8M552 427.5h6M551 428.5h8M550 429.5h10M550 430.5h10M550 431.5h10M550 432.5h10M550 433.5h10M550 434.5h10M550 435.5h10M551 436.5h8M594 391.5h6M593 392.5h8M592 393.5h10M592 394.5h10M592 395.5h10M592 396.5h10M592 397.5h10M592 398.5h10M592 399.5h10M593 400.5h8M637 352.5h6M636 353.5h8M635 354.5h10M635 355.5h10M635 356.5h10M635 357.5h10M635 358.5h10M635 359.5h10M635 360.5h10M636 361.5h8M675 322.5h6M674 323.5h8M673 324.5h10M673 325.5h10M673 326.5h10M673 327.5h10M673 328.5h10M673 329.5h10M673 330.5h10M674 331.5h8M702 302.5h6M701 303.5h8M700 304.5h10M700 305.5h10M700 306.5h10M700 307.5h10M700 308.5h10M700 309.5h10M700 310.5h10M701 311.5h8M745 259.5h6M744 260.5h8M743 261.5h10M743 262.5h10M743 263.5h10M743 264.5h10M743 265.5h10M743 266.5h10M743 267.5h10M744 268.5h8M796 219.5h6M795 220.5h8M794 221.5h10M794 222.5h10M794 223.5h10M794 224.5h10M794 225.5h10M794 226.5h10M794 227.5h10M795 228.5h8M841 173.5h6M840 174.5h8M839 175.5h10M839 176.5h10M839 177.5h10M839 178.5h10M839 179.5h10M839 180.5h10M839 181.5h10M840 182.5h8"/>
<path fill="none" stroke="#aa00aa" stroke-width="1" d="M826 214.5h1M825 215.5h1M824 216.5h1M823 217.5h1M821 218.5h2M820 219.5h1M819 220.5h1M818 221.5h1M817 222.5h1M816 223.5h1M815 224.5h1M814 225.5h1M813 226.5h1M811 227.5h2M810 228.5h1M809 229.5h1M808 230.5h1M807 231.5h1M806 232.5h1M805 233.5h1M804 234.5h1M803 235.5h1M801 236.5h2M800 237.5h1M799 238.5h1M798 239.5h1M797 240.5h1M796 241.5h1M794 242.5h2M793 243.5h1M792 244.5h1M791 245.5h1M790 246.5h1M788 247.5h2M787 248.5h1M786 249.5h1M785 250.5h1M783 251.5h2M782 252.5h1M781 253.5h1M780 254.5h1M779 255.5h1M777 256.5h2M776 257.5h1M775 258.5h1M774 259.5h1M772 260.5h2M771 261.5h1M770 262.5h1M769 263.5h1M768 264.5h1M766 265.5h2M765 266.5h1M764 267.5h1M763 268.5h1M762 269.5h1M761 270.5h1M760 271.5h1M759 272.5h1M757 273.5h2M756 274.5h1M755 275.5h1M754 276.5h1M753 277.5h1M752 278.5h1M751 279.5h1M750 280.5h1M749 281.5h1M748 282.5h1M747 283.5h1M746 284.5h1M744 285.5h2M743 286.5h1M742 287.5h1M741 288.5h1M740 289.5h1M739 290.5h1M738 291.5h1M737 292.5h1M736 293.5h1M735 294.5h1M734 295.5h1M733 296.5h1M731 297.5h2M730 298.5h1M729 299.5h1M728 300.5h1M727 301.5h1M726 302.5h1M725 303.5h1M724 304.5h1M723 305.5h1M722 306.5h1M721 307.5h1M720 308.5h1M720 309.5h1M719 310.5h1M718 311.5h1M717 312.5h1M716 313.5h1M715 314.5h1M714 315.5h1M713 316.5h1M712 317.5h1M711 318.5h1M710 319.5h1M709 320.5h1M709 321.5h1M708 322.5h1M707 323.5h1M706 324.5h1M705 325.5h1M704 326.5h1M703 327.5h1M702 328.5h1M701 329.5h1M700 330.5h1M699 331.5h1M698 332.5h1M698 333.5h1M697 334.5h1M696 335.5h1M695 336.5h1M694 337.5h1M693 338.5h1M692 339.5h1M691 340.5h1M690 341.5h1M689 342.5h1M688 343.5h1M687 344.5h1M686 345.5h1M685 346.5h1M683 347.5h2M682 348.5h1M681 349.5h1M680 350.5h1M679 351.5h1M678 352.5h1M677 353.5h1M676 354.5h1M675 355.5h1M674 356.5h1M673 357.5h1M672 358.5h1M671 359.5h1M670 360.5h1M669 361.5h1M668 362.5h1M666 363.5h2M665 364.5h1M664 365.5h1M663 366.5h1M662 367.5h1M661 368.5h1M660 369.5h1M659 370.5h1M658 371.5h1M657 372.5h1M655 373.5h2M654 374.5h1M653 375.5h1M652 376.5h1M650 377.5h2M649 378.5h1M648 379.5h1M647 380.5h1M645 381.5h2M644 382.5h1M643 383.5h1M642 384.5h1M640 385.5h2M639 386.5h1M638 387.5h1M637 388.5h1M635 389.5h2M634 390.5h1M633 391.5h1M632 392.5h1M630 393.5h2M629 394.5h1M628 395.5h1M627 396.5h1M626 397.5h1M624 398.5h2M623 399.5h1M622 400.5h1M621 401.5h1M619 402.5h2M618 403.5h1M617 404.5h1M616 405.5h1M614 406.5h2M613 407.5h1M612 408.5h1M611 409.5h1M609 410.5h2M608 411.5h1M607 412.5h1M606 413.5h1M604 414.5h2M603 415.5h1M602 416.5h1M601 417.5h1M599 418.5h2M598 419.5h1M597 420.5h1M596 421.5h1M595 422.5h1M593 423.5h2M592 424.5h1M591 425.5h1M590 426.5h1M589 427.5h1M587 428.5h2M586 429.5h1M585 430.5h1M584 431.5h1M583 432.5h1M581 433.5h2M580 434.5h1M579 435.5h1M578 436.5h1M576 437.5h2M575 438.5h1M574 439.5h1M573 440.5h1M572 441.5h1M570 442.5h2M569 443.5h1M568 444.5h1M567 445.5h1M566 446.5h1M564 447.5h2M563 448.5h1M562 449.5h1M561 450.5h1M560 451.5h1M558 452.5h2M557 453.5h1M556 454.5h1M555 455.5h1M554 456.5h1M552 457.5h2M551 458.5h1M550 459.5h1M549 460.5h1M548 461.5h1M547 462.5h1M546 463.5h1M545 464.5h1M544 465.5h1M543 466.5h1M542 467.5h1M541 468.5h1M541 469.5h1M540 470.5h1M539 471.5h1M538 472.5h1M537 473.5h1M536 474.5h1M535 475.5h1M534 476.5h1M533 477.5h1M532 478.5h1M531 479.5h1M530 480.5h1M529 481.5h1M528 482.5h1M527 483.5h1M526 484.5h1M525 485.5h1M524 486.5h1M523 487.5h1M523 488.5h1M522 489.5h1M521 490.5h1M520 491.5h1M519 492.5h1M518 493.5h1M517 494.5h1M516 495.5h1M515 496.5h1M514 497.5h1M512 498.5h2M511 499.5h1M509 500.5h2M507 501.5h2M506 502.5h1M504 503.5h2M503 504.5h1M501 505.5h2M500 506.5h1M498 507.5h2M496 508.5h2M495 509.5h1M493 510.5h2M492 511.5h1M490 512.5h2M489 513.5h1M487 514.5h2M485 515.5h2M484 516.5h1M482 517.5h2M481 518.5h1M480 519.5h1M479 520.5h1M477 521.5h2M476 522.5h1M475 523.5h1M474 524.5h1M473 525.5h1M472 526.5h1M470 527.5h2M469 528.5h1M468 529.5h1M467 530.5h1M466 531.5h1M465 532.5h1M463 533.5h2M462 534.5h1M461 535.5h1M460 536.5h1M459 537.5h1M458 538.5h1M456 539.5h2M455 540.5h1M454 541.5h1M453 542.5h1M452 543.5h1M451 544.5h1M449 545.5h2M448 546.5h1M447 547.5h1M446 548.5h1M445 549.5h1M444 550.5h1M442 551.5h2M441 552.5h1M440 553.5h1M439 554.5h1M438 555.5h1M437 556.5h1M435 557.5h2M434 558.5h1M433 559.5h1M432 560.5h1M431 561.5h1M430 562.5h1M428 563.5h2M427 564.5h1M426 565.5h1M425 566.5h1M424 567.5h1M423 568.5h1M421 569.5h2M420 570.5h1M419 571.5h1M418 572.5h1M416 573.5h2M415 574.5h1M414 575.5h1M412 576.5h2M411 577.5h1M410 578.5h1M408 579.5h2M407 580.5h1M406 581.5h1M404 582.5h2M403 583.5h1M402 584.5h1M400 585.5h2M399 586.5h1M398 587.5h1M396 588.5h2M395 589.5h1M394 590.5h1M392 591.5h2M391 592.5h1M390 593.5h1M388 594.5h2M387 595.5h1M386 596.5h1M384 597.5h2M383 598.5h1M382 599.5h1M381 600.5h1M379 601.5h2M378 602.5h1M377 603.5h1M375 604.5h2M374 605.5h1M373 606.5h1M371 607.5h2M370 608.5h1M369 609.5h1M367 610.5h2M366 611.5h1M365 612.5h1M363 613.5h2M362 614.5h1M361 615.5h1M359 616.5h2M358 617.5h1M357 618.5h1M356 619.5h1M354 620.5h2M353 621.5h1M352 622.5h1M350 623.5h2M349 624.5h1M348 625.5h1M346 626.5h2M345 627.5h1M344 628.5h1M342 629.5h2M341 630.5h1M340 631.5h1M338 632.5h2M337 633.5h1M336 634.5h1M334 635.5h2M333 636.5h1M332 637.5h1M330 638.5h2M329 639.5h1M327 640.5h2M326 641.5h1M325 642.5h1M323 643.5h2M322 644.5h1M320 645.5h2M319 646.5h1M317 647.5h2M316 648.5h1M315 649.5h1M313 650.5h2M312 651.5h1M310 652.5h2M309 653.5h1M307 654.5h2M306 655.5h1M305 656.5h1M303 657.5h2M302 658.5h1M300 659.5h2M299 660.5h1M297 661.5h2M296 662.5h1M295 663.5h1M293 664.5h2M292 665.5h1M290 666.5h2M289 667.5h1M288 668.5h1M286 669.5h2M285 670.5h1M284 671.5h1M282 672.5h2M281 673.5h1M279 674.5h2M278 675.5h1M277 676.5h1M275 677.5h2M274 678.5h1M272 679.5h2M271 680.5h1M270 681.5h1M268 682.5h2M267 683.5h1M266 684.5h1M264 685.5h2M263 686.5h1M261 687.5h2M260 688.5h1M259 689.5h1M257 690.5h2M256 691.5h1M255 692.5h1M253 693.5h2M251 694.5h2M249 695.5h2M247 696.5h2M244 697.5h3M242 698.5h2M239 699.5h3M237 700.5h2M235 701.5h2M232 702.5h3M230 703.5h2M228 704.5h2M225 705.5h3M223 706.5h2M221 707.5h2M218 708.5h3M216 709.5h2M213 710.5h3M211 711.5h2M209 712.5h2M206 713.5h3M204 714.5h2M202 715.5h2M200 716.5h2"/>
<path fill="none" stroke="#aa00aa" stroke-width="1" d="M199 712.5h2M198 713.5h4M197 714.5h6M196 715.5h8M195 716.5h10M196 717.5h8M197 718.5h6M198 719.5h4M199 720.5h2M251 690.5h2M250 691.5h4M249 692.5h6M248 693.5h8M247 694.5h10M248 695.5h8M249 696.5h6M250 697.5h4M251 698.5h2M291 661.5h2M290 662.5h4M289 663.5h6M288 664.5h8M287 665.5h10M288 666.5h8M289 667.5h6M290 668.5h4M291 669.5h2M331 633.5h2M330 634.5h4M329 635.5h6M328 636.5h8M327 637.5h10M328 638.5h8M329 639.5h6M330 640.5h4M331 641.5h2M381 595.5h2M380 596.5h4M379 597.5h6M378 598.5h8M377 599.5h10M378 600.5h8M379 601.5h6M380 602.5h4M381 603.5h2M417 568.5h2M416 569.5h4M415 570.5h6M414 571.5h8M413 572.5h10M414 573.5h8M415 574.5h6M416 575.5h4M417 576.5h2M480 514.5h2M479 515.5h4M478 516.5h6M477 517.5h8M476 518.5h10M477 519.5h8M478 520.5h6M479 521.5h4M480 522.5h2M513 493.5h2M512 494.5h4M511 495.5h6M510 496.5h8M509 497.5h10M510 498.5h8M511 499.5h6M512 500.5h4M513 501.5h2M549 455.5h2M548 456.5h4M547 457.5h6M546 458.5h8M545 459.5h10M546 460.5h8M547 461.5h6M548 462.5h4M549 463.5h2M601 412.5h2M600 413.5h4M599 414.5h6M598 415.5h8M597 416.5h10M598 417.5h8M599 418.5h6M600 419.5h4M601 420.5h2M657 367.5h2M656 368.5h4M655 369.5h6M654 370.5h8M653 371.5h10M654 372.5h8M655 373.5h6M656 374.5h4M657 375.5h2M691 335.5h2M690 336.5h4M689 337.5h6M688 338.5h8M687 339.5h10M688 340.5h8M689 341.5h6M690 342.5h4M691 343.5h2M724 299.5h2M723 300.5h4M722 301.5h6M721 302.5h8M720 303.5h10M721 304.5h8M722 305.5h6M723 306.5h4M724 307.5h2M763 263.5h2M762 264.5h4M761 265.5h6M760 266.5h8M759 267.5h10M760 268.5h8M761 269.5h6M762 270.5h4M763 271.5h2M796 236.5h2M795 237.5h4M794 238.5h6M793 239.5h8M792 240.5h10M793 241.5h8M794 242.5h6M795 243.5h4M796 244.5h2M825 210.5h2M824 211.5h4M823 212.5h6M822 213.5h8M821 214.5h10M822 215.5h8M823 216.5h6M824 217.5h4M825 218.5h2"/>
<path fill="none" stroke="#ff8000" stroke-width="1" d="M829 228.5h1M828 229.5h1M827 230.5h1M826 231.5h1M825 232.5h1M824 233.5h1M823 234.5h1M822 235.5h1M821 236.5h1M821 237.5h1M820 238.5h1M819 239.5h1M818 240.5h1M817 241.5h1M816 242.5h1M815 243.5h1M814 244.5h1M813 245.5h1M812 246.5h1M811 247.5h1M810 248.5h1M809 249.5h1M808 250.5h1M807 251.5h1M806 252.5h1M805 253.5h1M804 254.5h1M804 255.5h1M803 256.5h1M802 257.5h1M801 258.5h1M800 259.5h1M799 260.5h1M798 261.5h1M797 262.5h1M796 263.5h1M795 264.5h1M794 265.5h1M793 266.5h1M792 267.5h1M790 268.5h2M789 269.5h1M788 270.5h1M787 271.5h1M786 272.5h1M785 273.5h1M784 274.5h1M782 275.5h2M781 276.5h1M780 277.5h1M779 278.5h1M778 279.5h1M777 280.5h1M776 281.5h1M774 282.5h2M773 283.5h1M772 284.5h1M771 285.5h1M770 286.5h1M769 287.5h1M768 288.5h1M766 289.5h2M765 290.5h1M764 291.5h1M763 292.5h1M762 293.5h1M761 294.5h1M760 295.5h1M758 296.5h2M757 297.5h1M756 298.5h1M755 299.5h1M754 300.5h1M753 301.5h1M752 302.5h1M750 303.5h2M749 304.5h1M748 305.5h1M747 306.5h1M746 307.5h1M745 308.5h1M744 309.5h1M742 310.5h2M741 311.5h1M740 312.5h1M739 313.5h1M738 314.5h1M737 315.5h1M736 316.5h1M734 317.5h2M733 318.5h1M732 319.5h1M731 320.5h1M730 321.5h1M729 322.5h1M728 323.5h1M727 324.5h1M726 325.5h1M725 326.5h1M724 327.5h1M723 328.5h1M722 329.5h1M720 330.5h2M719 331.5h1M718 332.5h1M717 333.5h1M716 334.5h1M715 335.5h1M714 336.5h1M713 337.5h1M712 338.5h1M711 339.5h1M710 340.5h1M709 341.5h1M708 342.5h1M707 343.5h1M706 344.5h1M705 345.5h1M704 346.5h1M703 347.5h1M701 348.5h2M700 349.5h1M699 350.5h1M698 351.5h1M697 352.5h1M696 353.5h1M695 354.5h1M694 355.5h1M693 356.5h1M692 357.5h1M690 358.5h2M689 359.5h1M687 360.5h2M686 361.5h1M685 362.5h1M683 363.5h2M682 364.5h1M680 365.5h2M679 366.5h1M677 367.5h2M676 368.5h1M674 369.5h2M673 370.5h1M672 371.5h1M670 372.5h2M669 373.5h1M667 374.5h2M666 375.5h1M664 376.5h2M663 377.5h1M662 378.5h1M660 379.5h2M659 380.5h1M657 381.5h2M656 382.5h1M655 383.5h1M654 384.5h1M652 385.5h2M651 386.5h1M650 387.5h1M649 388.5h1M648 389.5h1M647 390.5h1M646 391.5h1M644 392.5h2M643 393.5h1M642 394.5h1M641 395.5h1M640 396.5h1M639 397.5h1M638 398.5h1M636 399.5h2M635 400.5h1M634 401.5h1M633 402.5h1M632 403.5h1M631 404.5h1M629 405.5h2M628 406.5h1M627 407.5h1M626 408.5h1M625 409.5h1M624 410.5h1M623 411.5h1M621 412.5h2M620 413.5h1M619 414.5h1M618 415.5h1M617 416.5h1M616 417.5h1M615 418.5h1M613 419.5h2M612 420.5h1M611 421.5h1M610 422.5h1M609 423.5h1M608 424.5h1M607 425.5h1M605 426.5h2M604 427.5h1M603 428.5h1M602 429.5h1M601 430.5h1M600 431.5h1M599 432.5h1M598 433.5h1M597 434.5h1M596 435.5h1M595 436.5h1M594 437.5h1M593 438.5h1M592 439.5h1M590 440.5h2M589 441.5h1M588 442.5h1M587 443.5h1M586 444.5h1M585 445.5h1M584 446.5h1M583 447.5h1M582 448.5h1M581 449.5h1M580 450.5h1M579 451.5h1M578 452.5h1M577 453.5h1M576 454.5h1M575 455.5h1M574 456.5h1M573 457.5h1M572 458.5h1M571 459.5h1M570 460.5h1M568 461.5h2M567 462.5h1M566 463.5h1M565 464.5h1M564 465.5h1M563 466.5h1M562 467.5h1M561 468.5h1M560 469.5h1M559 470.5h1M558 471.5h1M557 472.5h1M555 473.5h2M554 474.5h1M553 475.5h1M551 476.5h2M550 477.5h1M549 478.5h1M547 479.5h2M546 480.5h1M544 481.5h2M543 482.5h1M542 483.5h1M540 484.5h2M539 485.5h1M537 486.5h2M536 487.5h1M535 488.5h1M533 489.5h2M532 490.5h1M531 491.5h1M529 492.5h2M528 493.5h1M526 494.5h2M525 495.5h1M524 496.5h1M522 497.5h2M521 498.5h1M519 499.5h2M518 500.5h1M517 501.5h1M515 502.5h2M514 503.5h1M513 504.5h1M511 505.5h2M510 506.5h1M509 507.5h1M507 508.5h2M506 509.5h1M505 510.5h1M504 511.5h1M503 512.5h1M501 513.5h2M500 514.5h1M499 515.5h1M498 516.5h1M497 517.5h1M495 518.5h2M494 519.5h1M493 520.5h1M492 521.5h1M491 522.5h1M489 523.5h2M488 524.5h1M487 525.5h1M486 526.5h1M485 527.5h1M483 528.5h2M482 529.5h1M481 530.5h1M480 531.5h1M479 532.5h1M477 533.5h2M476 534.5h1M475 535.5h1M474 536.5h1M473 537.5h1M471 538.5h2M470 539.5h1M469 540.5h1M468 541.5h1M467 542.5h1M465 543.5h2M464 544.5h1M463 545.5h1M461 546.5h2M460 547.5h1M459 548.5h1M457 549.5h2M456 550.5h1M455 551.5h1M453 552.5h2M452 553.5h1M451 554.5h1M449 555.5h2M448 556.5h1M447 557.5h1M445 558.5h2M444 559.5h1M443 560.5h1M441 561.5h2M440 562.5h1M439 563.5h1M437 564.5h2M436 565.5h1M435 566.5h1M433 567.5h2M432 568.5h1M431 569.5h1M429 570.5h2M428 571.5h1M427 572.5h1M425 573.5h2M424 574.5h1M423 575.5h1M421 576.5h2M420 577.5h1M419 578.5h1M417 579.5h2M416 580.5h1M415 581.5h1M413 582.5h2M412 583.5h1M411 584.5h1M410 585.5h1M408 586.5h2M407 587.5h1M406 588.5h1M404 589.5h2M403 590.5h1M402 591.5h1M401 592.5h1M399 593.5h2M398 594.5h1M397 595.5h1M395 596.5h2M394 597.5h1M393 598.5h1M391 599.5h2M390 600.5h1M389 601.5h1M388 602.5h1M386 603.5h2M385 604.5h1M384 605.5h1M382 606.5h2M381 607.5h1M380 608.5h1M378 609.5h2M377 610.5h1M376 611.5h1M374 612.5h2M373 613.5h1M371 614.5h2M370 615.5h1M368 616.5h2M367 617.5h1M366 618.5h1M364 619.5h2M363 620.5h1M361 621.5h2M360 622.5h1M359 623.5h1M357 624.5h2M356 625.5h1M354 626.5h2M353 627.5h1M352 628.5h1M350 629.5h2M349 630.5h1M347 631.5h2M346 632.5h1M344 633.5h2M343 634.5h1M342 635.5h1M340 636.5h2M339 637.5h1M338 638.5h1M336 639.5h2M335 640.5h1M334 641.5h1M332 642.5h2M331 643.5h1M330 644.5h1M328 645.5h2M327 646.5h1M326 647.5h1M324 648.5h2M323 649.5h1M322 650.5h1M320 651.5h2M319 652.5h1M318 653.5h1M316 654.5h2M315 655.5h1M314 656.5h1M312 657.5h2M311 658.5h1M310 659.5h1M309 660.5h1M307 661.5h2M306 662.5h1M305 663.5h1M303 664.5h2M302 665.5h1M301 666.5h1M299 667.5h2M298 668.5h1M297 669.5h1M295 670.5h2M294 671.5h1M293 672.5h1M291 673.5h2M290 674.5h1M289 675.5h1M287 676.5h2M286 677.5h1M285 678.5h1M283 679.5h2M282 680.5h1M280 681.5h2M278 682.5h2M277 683.5h1M275 684.5h2M274 685.5h1M272 686.5h2M271 687.5h1M269 688.5h2M268 689.5h1M266 690.5h2M264 691.5h2M263 692.5h1M261 693.5h2M260 694.5h1M258 695.5h2M257 696.5h1M255 697.5h2M254 698.5h1M252 699.5h2M250 700.5h2M249 701.5h1M247 702.5h2M246 703.5h1M244 704.5h2M243 705.5h1"/>
<path fill="none" stroke="#ff8000" stroke-width="1" d="M238 702.5h10M239 703.5h9M240 704.5h7M240 705.5h6M241 706.5h5M241 707.5h4M242 708.5h3M243 709.5h1M280 675.5h10M281 676.5h9M282 677.5h7M282 678.5h6M283 679.5h5M283 680.5h4M284 681.5h3M285 682.5h1M334 634.5h10M335 635.5h9M336 636.5h7M336 637.5h6M337 638.5h5M337 639.5h4M338 640.5h3M339 641.5h1M375 605.5h10M376 606.5h9M377 607.5h7M377 608.5h6M378 609.5h5M378 610.5h4M379 611.5h3M380 612.5h1M419 571.5h10M420 572.5h9M421 573.5h7M421 574.5h6M422 575.5h5M422 576.5h4M423 577.5h3M424 578.5h1M458 542.5h10M459 543.5h9M460 544.5h7M460 545.5h6M461 546.5h5M461 547.5h4M462 548.5h3M463 549.5h1M505 503.5h10M506 504.5h9M507 505.5h7M507 506.5h6M508 507.5h5M508 508.5h4M509 509.5h3M510 510.5h1M552 469.5h10M553 470.5h9M554 471.5h7M554 472.5h6M555 473.5h5M555 474.5h4M556 475.5h3M557 476.5h1M597 426.5h10M598 427.5h9M599 428.5h7M599 429.5h6M600 430.5h5M600 431.5h4M601 432.5h3M602 433.5h1M651 379.5h10M652 380.5h9M653 381.5h7M653 382.5h6M654 383.5h5M654 384.5h4M655 385.5h3M656 386.5h1M687 354.5h10M688 355.5h9M689 356.5h7M689 357.5h6M690 358.5h5M690 359.5h4M691 360.5h3M692 361.5h1M725 318.5h10M726 319.5h9M727 320.5h7M727 321.5h6M728 322.5h5M728 323.5h4M729 324.5h3M730 325.5h1M790 261.5h10M791 262.5h9M792 263.5h7M792 264.5h6M793 265.5h5M793 266.5h4M794 267.5h3M795 268.5h1M824 225.5h10M825 226.5h9M826 227.5h7M826 228.5h6M827 229.5h5M827 230.5h4M828 231.5h3M829 232.5h1"/>
</g>
<g shape-rendering="crispEdges">
<rect x="214" y="178" width="84" height="1" fill="#d20000"/>
<rect x="214" y="200" width="84" height="1" fill="#00d200"/>
<rect x="214" y="222" width="84" height="1" fill="#2d2dff"/>
<rect x="214" y="245" width="84" height="1" fill="#aa00aa"/>
<rect x="214" y="267" width="84" height="1" fill="#ff8000"/>
<path fill="none" stroke="#d20000" stroke-width="1" d="M252 174.5h8M252 175.5h8M252 176.5h8M252 177.5h8M252 178.5h8M252 179.5h8M252 180.5h8M252 181.5h8"/>
<path fill="none" stroke="#00d200" stroke-width="1" d="M256 196.5h1M255 197.5h3M254 198.5h4M254 199.5h5M253 200.5h7M253 201.5h7M252 202.5h9"/>
<path fill="none" stroke="#2d2dff" stroke-width="1" d="M253 217.5h6M252 218.5h8M251 219.5h10M251 220.5h10M251 221.5h10M251 222.5h10M251 223.5h10M251 224.5h10M251 225.5h10M252 226.5h8"/>
<path fill="none" stroke="#aa00aa" stroke-width="1" d="M255 241.5h2M254 242.5h4M253 243.5h6M252 244.5h8M251 245.5h10M252 246.5h8M253 247.5h6M254 248.5h4M255 249.5h2"/>
<path fill="none" stroke="#ff8000" stroke-width="1" d="M251 264.5h10M252 265.5h9M253 266.5h7M253 267.5h6M254 268.5h5M254 269.5h4M255 270.5h3M256 271.5h1"/>
</g>
<text transform="translate(311.7,184) scale(0.979,1.047)" font-family="'Liberation Sans', sans-serif" font-size="19.3" font-weight="bold" fill="#000">Pressure=</text>
<path transform="translate(403.32,184) scale(0.00957,-0.00957)" d="M806 0L525 0L525 1059Q371 915 162 846L162 1101Q272 1137 401 1237.5Q530 1338 578 1472L806 1472Z" fill="#000"/>
<text transform="translate(414.13,184) scale(0.979,1.047)" font-family="'Liberation Sans', sans-serif" font-size="19.3" font-weight="bold" fill="#000">5psig</text>
<text transform="translate(311.7,206.8) scale(0.979,1.047)" font-family="'Liberation Sans', sans-serif" font-size="19.3" font-weight="bold" fill="#000">Pressure= 20psig</text>
<text transform="translate(311.7,229) scale(0.979,1.047)" font-family="'Liberation Sans', sans-serif" font-size="19.3" font-weight="bold" fill="#000">Pressure= 25psig</text>
<text transform="translate(311.7,251.2) scale(0.979,1.047)" font-family="'Liberation Sans', sans-serif" font-size="19.3" font-weight="bold" fill="#000">Pressure= 30psig</text>
<text transform="translate(311.7,273.8) scale(0.979,1.047)" font-family="'Liberation Sans', sans-serif" font-size="19.3" font-weight="bold" fill="#000">Pressure= 35psig</text>
</svg>
</body></html>
